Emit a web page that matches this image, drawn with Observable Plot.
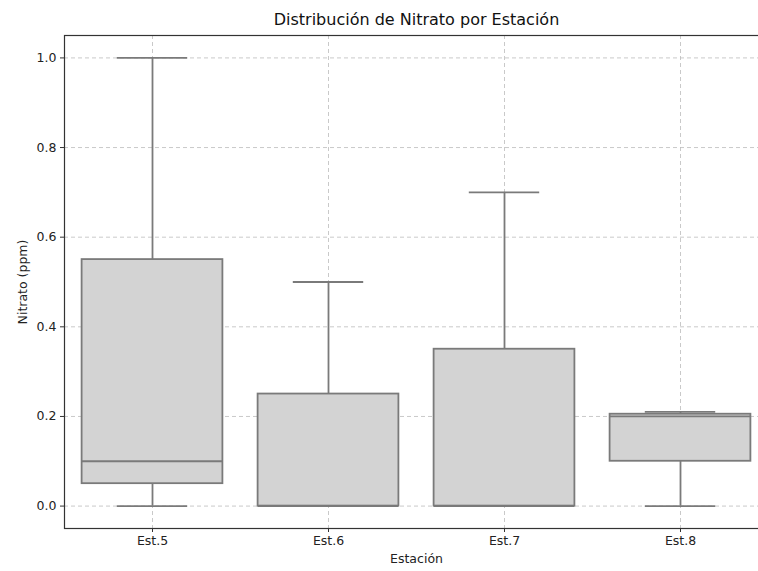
<!DOCTYPE html>
<html>
<head>
<meta charset="utf-8">
<script src="https://cdn.jsdelivr.net/npm/d3@7"></script>
<script src="https://cdn.jsdelivr.net/npm/@observablehq/plot@0.6"></script>
<style>
  html, body { margin: 0; padding: 0; background: #fff; overflow: hidden; width: 758px; height: 571px; }
  #chart { width: 758px; height: 571px; overflow: hidden; }
  #chart svg { display: block; max-width: none !important; width: 768px; height: 571px; }
</style>
</head>
<body>
<div id="chart"></div>
<script>
const title = "Distribución de Nitrato por Estación";
const stations = ["Est.5", "Est.6", "Est.7", "Est.8"];
const whiskerLow = [0.0, 0.0, 0.0, 0.0];
const q1 = [0.05, 0.0, 0.0, 0.1];
const median = [0.1, 0.0, 0.0, 0.2];
const q3 = [0.55, 0.25, 0.35, 0.205];
const whiskerHigh = [1.0, 0.5, 0.7, 0.21];
const yTicks = [0.0, 0.2, 0.4, 0.6, 0.8, 1.0];

const data = stations.map((s, i) => ({
  i, s, lo: whiskerLow[i], q1: q1[i], med: median[i], q3: q3[i], hi: whiskerHigh[i]
}));

const boxHalf = 0.4, capHalf = 0.2;
const stroke = "#7a7a7a";

const chart = Plot.plot({
  width: 768,
  height: 571,
  marginLeft: 64,
  marginRight: 0,
  marginTop: 35,
  marginBottom: 43,
  style: { fontFamily: "DejaVu Sans", fontSize: "12px", color: "#222", background: "#fff", maxWidth: "none" },
  x: { type: "linear", domain: [-0.5, 3.5] },
  y: { domain: [-0.05, 1.05] },
  marks: [
    Plot.gridY(yTicks, { stroke: "#bbb", strokeOpacity: 0.8, strokeDasharray: "4,3" }),
    Plot.gridX([0, 1, 2, 3], { stroke: "#bbb", strokeOpacity: 0.8, strokeDasharray: "4,3" }),
    Plot.ruleX(data, { x: "i", y1: "lo", y2: "q1", stroke, strokeWidth: 1.8 }),
    Plot.ruleX(data, { x: "i", y1: "q3", y2: "hi", stroke, strokeWidth: 1.8 }),
    Plot.rect(data, { x1: d => d.i - boxHalf, x2: d => d.i + boxHalf, y1: "q1", y2: "q3", fill: "#d3d3d3", stroke, strokeWidth: 1.8 }),
    Plot.ruleY(data, { y: "med", x1: d => d.i - boxHalf, x2: d => d.i + boxHalf, stroke, strokeWidth: 1.8 }),
    Plot.ruleY(data, { y: "lo", x1: d => d.i - capHalf, x2: d => d.i + capHalf, stroke, strokeWidth: 1.8 }),
    Plot.ruleY(data, { y: "hi", x1: d => d.i - capHalf, x2: d => d.i + capHalf, stroke, strokeWidth: 1.8 }),
    Plot.frame({ stroke: "#333", strokeWidth: 1.2 }),
    Plot.axisY(yTicks, { tickFormat: d3.format(".1f"), tickSize: 4, tickPadding: 4, stroke: "#333", fontSize: 12.5,
      label: "Nitrato (ppm)", labelAnchor: "center", labelArrow: "none", labelOffset: 46 }),
    Plot.axisX([0, 1, 2, 3], { tickFormat: i => stations[i], tickSize: 4, tickPadding: 4, stroke: "#333", fontSize: 12.5,
      label: "Estación", labelAnchor: "center", labelArrow: "none", labelOffset: 34 }),
    Plot.text([title], { frameAnchor: "top", dy: -16, lineAnchor: "middle", fontSize: 16, fill: "#111" })
  ]
});
document.getElementById("chart").appendChild(chart);
</script>
</body>
</html>
